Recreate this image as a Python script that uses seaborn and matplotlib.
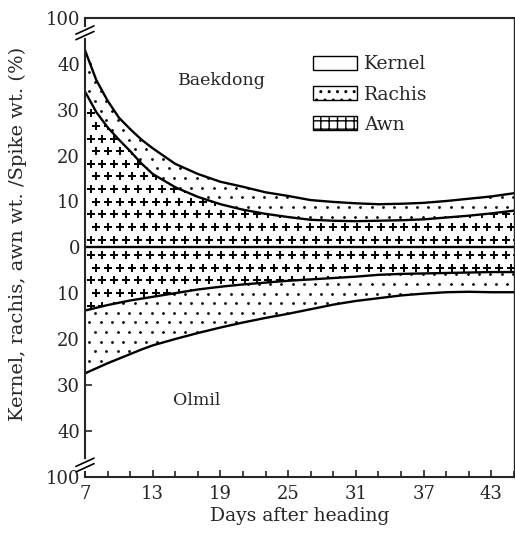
import numpy as np
import pandas as pd
import matplotlib
matplotlib.use("Agg")
import matplotlib.pyplot as plt
from matplotlib.patches import Patch
import seaborn as sns

# days after heading
days = [7, 8, 9, 10, 11, 12, 13, 15, 17, 19, 21, 23, 25, 27, 29, 31, 33, 35, 37, 39, 41, 43, 45]

# Baekdong (upper half): awn top and awn+rachis top (% of spike wt.)
baek_awn = [34, 29.5, 26.2, 23.5, 21, 18.3, 16, 13.1, 11, 9.4, 8.2, 7.3, 6.6, 6.0, 5.8, 5.7,
            5.8, 5.9, 6.1, 6.5, 6.9, 7.4, 8.0]
baek_rachis = [43, 36.5, 32, 28.3, 25.8, 23.5, 21.6, 18.2, 16, 14.3, 13.2, 12.0, 11.2, 10.3,
               9.9, 9.6, 9.4, 9.5, 9.7, 10.1, 10.6, 11.1, 11.8]

# Olmil (lower half, drawn downward)
olm_awn = [13.8, 13.2, 12.6, 12.1, 11.6, 11.2, 10.8, 10.0, 9.2, 8.6, 8.1, 7.7, 7.3, 7.0,
           6.7, 6.4, 6.0, 5.8, 5.7, 5.6, 5.5, 5.4, 5.4]
olm_rachis = [27.5, 26.4, 25.3, 24.3, 23.3, 22.3, 21.4, 20.0, 18.7, 17.5, 16.4, 15.4, 14.5,
              13.5, 12.5, 11.7, 11.1, 10.5, 10.1, 9.8, 9.7, 9.8, 9.8]

ytick_pos = [50, 40, 30, 20, 10, 0, -10, -20, -30, -40, -50]
ytick_lab = ["100", "40", "30", "20", "10", "0", "10", "20", "30", "40", "100"]
xtick_lab = [7, 13, 19, 25, 31, 37, 43]

df = pd.DataFrame({"day": days,
                   "baek_awn": baek_awn, "baek_rachis": baek_rachis,
                   "olm_awn": -np.array(olm_awn), "olm_rachis": -np.array(olm_rachis)})

sns.set_style("ticks")
plt.rcParams["font.family"] = ["DejaVu Serif"]

fig = plt.figure(figsize=(5.15, 5.33), dpi=100)
ax = fig.add_axes([0.165, 0.106, 0.833, 0.86])

# fill textures (sign: +1 upper half, -1 lower half)
def plus_fill(y1, y2, sign):
    poly = ax.fill_between(df.day, y1, y2, facecolor="white", edgecolor="none")
    rows = sign * (1.7 + 2.75 * np.arange(18))
    gx, gy = np.meshgrid(np.arange(7.5, 46, 1.05), rows)
    gx = gx + (np.arange(gx.shape[0])[:, None] % 2) * 0.5
    sc = ax.scatter(gx.ravel(), gy.ravel(), marker="+", s=38, linewidths=1.4, color="black")
    sc.set_clip_path(poly.get_paths()[0], ax.transData)

def dot_fill(y1, y2):
    poly = ax.fill_between(df.day, y1, y2, facecolor="white", edgecolor="none")
    gx, gy = np.meshgrid(np.arange(7.4, 46, 1.0), np.arange(-50, 50, 2.1))
    gx = gx + (np.arange(gx.shape[0])[:, None] % 2) * 0.5
    sc = ax.scatter(gx.ravel(), gy.ravel(), marker="o", s=4, linewidths=0, color="black")
    sc.set_clip_path(poly.get_paths()[0], ax.transData)

plus_fill(0, df.baek_awn, 1)
dot_fill(df.baek_awn, df.baek_rachis)
plus_fill(0, df.olm_awn, -1)
dot_fill(df.olm_awn, df.olm_rachis)

for col in ["baek_awn", "baek_rachis", "olm_awn", "olm_rachis"]:
    sns.lineplot(data=df, x="day", y=col, color="black", linewidth=1.7, ax=ax)
ax.axhline(0, color="black", linewidth=1.7)

ax.set_xlim(7, 45)
ax.set_ylim(-50, 50)
ax.set_xticks(xtick_lab)
ax.set_xticks(np.arange(7, 46, 2), minor=True)
ax.set_yticks(ytick_pos)
ax.set_yticklabels(ytick_lab)
ax.tick_params(axis="both", which="both", direction="in", labelsize=13, width=1.2)
ax.tick_params(axis="both", which="major", length=5)
ax.tick_params(axis="x", which="minor", length=4)
ax.tick_params(axis="x", which="major", pad=6)
for s in ax.spines.values():
    s.set_linewidth(1.5)
ax.spines["right"].set_linewidth(1.0)

ax.set_xlabel("Days after heading", fontsize=13.5, labelpad=3)
ax.set_ylabel("Kernel, rachis, awn wt. /Spike wt. (%)", fontsize=14)
ax.yaxis.set_label_coords(-0.135, 0.53)

# axis break marks
for yb in [46.8, -47.5]:
    ax.plot([7, 7], [yb - 0.8, yb + 0.8], color="white", linewidth=3, clip_on=False, zorder=5)
    for d in [-0.6, 0.6]:
        ax.plot([6.2, 7.8], [yb + d - 0.9, yb + d + 0.9], color="black", linewidth=1.2,
                clip_on=False, zorder=6)

ax.text(19.1, 36.4, "Baekdong", fontsize=12.5, ha="center", va="center")
ax.text(16.9, -33.4, "Olmil", fontsize=12.5, ha="center", va="center")

handles = [Patch(facecolor="white", edgecolor="black", label="Kernel"),
           Patch(facecolor="white", edgecolor="black", hatch="..", label="Rachis"),
           Patch(facecolor="white", edgecolor="black", hatch="++", label="Awn")]
ax.legend(handles=handles, loc="upper left", bbox_to_anchor=(0.515, 0.935), frameon=False,
          fontsize=13.5, handlelength=2.3, handleheight=0.8, labelspacing=0.65, handletextpad=0.4,
          borderaxespad=0)

fig.savefig("out.png", dpi=100)
